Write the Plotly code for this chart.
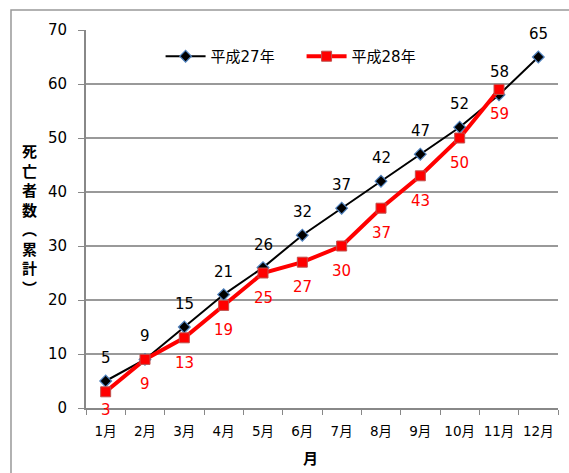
import plotly.graph_objects as go

months = ["1月", "2月", "3月", "4月", "5月", "6月", "7月", "8月", "9月", "10月", "11月", "12月"]
h27 = [5, 9, 15, 21, 26, 32, 37, 42, 47, 52, 58, 65]
h28 = [3, 9, 13, 19, 25, 27, 30, 37, 43, 50, 59]
name27 = "平成27年"
name28 = "平成28年"
y_ticks = [0, 10, 20, 30, 40, 50, 60, 70]

FONT = "DejaVu Sans, Noto Sans CJK JP, sans-serif"
PX_PER_UNIT = 378 / 70

fig = go.Figure()
fig.add_trace(go.Scatter(
    x=months, y=h27, name=name27, mode="lines+markers",
    line=dict(color="black", width=2),
    marker=dict(symbol="diamond", size=9, color="black", line=dict(color="#4F81BD", width=1.2)),
))
fig.add_trace(go.Scatter(
    x=months[:len(h28)], y=h28, name=name28, mode="lines+markers",
    line=dict(color="#FF0000", width=4),
    marker=dict(symbol="square", size=10, color="#FF0000", line=dict(color="#C0504D", width=1)),
))

ann = []
for m, v in zip(months, h27):
    ann.append(dict(x=m, y=v, text=str(v), showarrow=False, yshift=23,
                    font=dict(size=15, color="black", family=FONT)))
for m, v in zip(months, h28):
    shift = -min(25, v * PX_PER_UNIT + 2)
    ann.append(dict(x=m, y=v, text=str(v), showarrow=False, yshift=shift,
                    font=dict(size=15, color="#FF0000", family=FONT)))

ann.append(dict(xref="paper", yref="paper", x=-0.119, y=0.5,
                text="<b>" + "<br>".join(list("死亡者数︵累計︶")) + "</b>", showarrow=False,
                font=dict(size=15, color="black", family="Noto Sans CJK JP"),
                xanchor="center", yanchor="middle"))
ann.append(dict(xref="paper", yref="paper", x=0.475, y=-0.132,
                text="<b>月</b>", showarrow=False,
                font=dict(size=15, color="black", family="Noto Sans CJK JP"),
                xanchor="center", yanchor="middle"))

fig.update_layout(
    width=569, height=473,
    margin=dict(l=86, r=11, t=30, b=65),
    paper_bgcolor="white", plot_bgcolor="white",
    font=dict(family=FONT, size=14, color="black"),
    showlegend=True,
    legend=dict(orientation="h", x=0.158, y=0.93, xanchor="left", yanchor="middle",
                font=dict(size=15, family=FONT), bgcolor="rgba(0,0,0,0)",
                itemwidth=40, entrywidth=86),
    annotations=ann,
    shapes=[dict(type="rect", xref="paper", yref="paper",
                 x0=-0.1589, y0=-0.3, x1=1.2, y1=1.0529,
                 line=dict(color="#999999", width=1.5), layer="below")],
)
fig.update_xaxes(
    type="category", range=[-0.5, 11.5],
    showline=True, linecolor="#888888", linewidth=2,
    ticks="outside", tickson="boundaries", ticklen=5, tickcolor="#888888",
    showgrid=False, tickfont=dict(size=13.5, family=FONT), tickangle=0,
    ticklabelstandoff=10,
)
fig.update_yaxes(
    range=[0, 70], tickvals=y_ticks,
    showline=True, linecolor="#888888", linewidth=2,
    ticks="outside", ticklen=6, tickcolor="#888888",
    showgrid=True, gridcolor="#999999", gridwidth=1.5,
    zeroline=False, tickfont=dict(size=15, family=FONT), ticklabelstandoff=8,
)

fig.write_html("out.html")
